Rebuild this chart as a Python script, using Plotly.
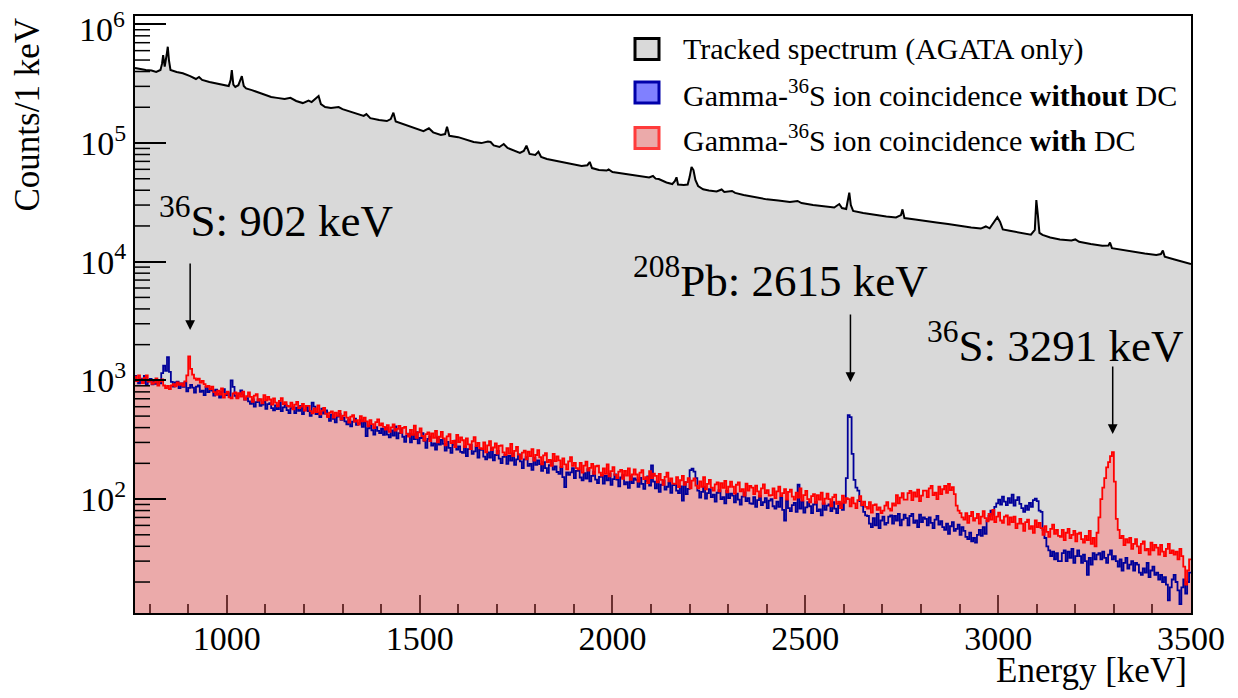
import math
import plotly.graph_objects as go

# ---------------- data ----------------
# Tracked spectrum (AGATA only): energy [keV] and counts per keV
tracked_energy = [
    762, 775, 790, 805, 817, 828, 832, 835, 839, 844, 847, 850, 854, 870, 886, 905,
    920, 928, 936, 955, 975, 1005, 1010, 1013, 1017, 1022, 1030, 1035, 1039, 1044,
    1050, 1065, 1085, 1100, 1115, 1130, 1150, 1165, 1180, 1197, 1212, 1220, 1228,
    1238, 1244, 1255, 1270, 1290, 1300, 1320, 1340, 1355, 1362, 1372, 1395, 1415,
    1425, 1432, 1438, 1455, 1470, 1490, 1510, 1524, 1535, 1555, 1566, 1571, 1577,
    1600, 1622, 1640, 1660, 1677, 1684, 1692, 1707, 1718, 1728, 1745, 1760, 1770,
    1777, 1785, 1800, 1808, 1815, 1830, 1850, 1875, 1900, 1920, 1935, 1941, 1947,
    1965, 1985, 1990, 2000, 2025, 2050, 2075, 2095, 2105, 2112, 2120, 2128, 2140,
    2155, 2162, 2166, 2170, 2185, 2195, 2200, 2205, 2210, 2215, 2222, 2235, 2250,
    2270, 2283, 2290, 2310, 2318, 2340, 2370, 2400, 2430, 2460, 2480, 2490, 2520,
    2550, 2575, 2588, 2595, 2606, 2610, 2614, 2618, 2624, 2650, 2680, 2710, 2735,
    2748, 2752, 2757, 2785, 2810, 2840, 2870, 2900, 2930, 2955, 2968, 2978, 2990,
    2998, 3005, 3012, 3030, 3060, 3085, 3095, 3099, 3103, 3107, 3115, 3135, 3160,
    3190, 3200, 3210, 3240, 3270, 3286, 3290, 3295, 3320, 3350, 3380, 3410, 3422,
    3427, 3432, 3455, 3480, 3500,
]
tracked_counts = [
    429e3, 420e3, 412e3, 408e3, 397e3, 412e3, 464e3, 551e3, 440e3, 551e3, 647e3,
    500e3, 412e3, 397e3, 387e3, 366e3, 346e3, 360e3, 340e3, 327e3, 317e3, 302e3,
    340e3, 412e3, 310e3, 297e3, 307e3, 340e3, 366e3, 302e3, 288e3, 279e3, 264e3,
    254e3, 244e3, 240e3, 235e3, 240e3, 226e3, 217e3, 228e3, 221e3, 232e3, 249e3,
    213e3, 201e3, 197e3, 201e3, 193e3, 184e3, 175e3, 169e3, 175e3, 162e3, 156e3,
    153e3, 159e3, 180e3, 152e3, 145e3, 139e3, 133e3, 126e3, 133e3, 123e3, 117e3,
    119e3, 137e3, 115e3, 112e3, 106e3, 102e3, 99.8e3, 103e3, 102e3, 95.4e3,
    92.5e3, 98e3, 90.8e3, 85.7e3, 82.4e3, 85.7e3, 94.9e3, 80.9e3, 79.3e3, 84.5e3,
    76.2e3, 73.3e3, 71.3e3, 68.5e3, 65.9e3, 64e3, 65e3, 69.2e3, 61.5e3, 59.2e3,
    58.6e3, 60e3, 57e3, 55.3e3, 53.7e3, 52.7e3, 51.2e3, 52.7e3, 50.1e3, 49.7e3,
    48.3e3, 46.5e3, 45.1e3, 47.9e3, 51.4e3, 44.7e3, 44.3e3, 44.7e3, 51.6e3,
    62.8e3, 59.2e3, 48.8e3, 43.4e3, 40.7e3, 39.8e3, 39e3, 40.6e3, 38.6e3, 39.4e3,
    38e3, 36.5e3, 34.8e3, 33.5e3, 32.8e3, 31.8e3, 32.5e3, 31.2e3, 30e3, 29.2e3,
    28.6e3, 30.6e3, 28.3e3, 27.8e3, 33.1e3, 38.1e3, 30e3, 26.8e3, 25.7e3, 24.7e3,
    24e3, 23.6e3, 24.7e3, 27.6e3, 23.3e3, 22.7e3, 22e3, 21.4e3, 20.8e3, 20e3,
    19.4e3, 19e3, 19.8e3, 19.1e3, 21.6e3, 23.7e3, 21.6e3, 18.7e3, 18.2e3, 17.5e3,
    16.9e3, 18.5e3, 33.1e3, 24.7e3, 17.5e3, 16.8e3, 16e3, 15.4e3, 15.1e3, 15.4e3,
    14.7e3, 14.1e3, 13.6e3, 13.7e3, 14.5e3, 13e3, 12.6e3, 12.1e3, 11.7e3, 11.4e3,
    11.6e3, 12.4e3, 11e3, 10.5e3, 10e3, 9.55e3,
]

# Gamma-36S ion coincidence histograms, 5 keV bins starting at 760 keV
bin_start = 760
bin_width = 5

with_dc = [
    1075, 985, 1100, 1020, 950, 1050, 1100, 975, 1010, 935,    # 760
    960, 1040, 905, 980, 1020, 905, 860, 900, 845, 905,        # 810
    930, 890, 960, 915, 945, 900, 980, 1100, 1590, 1250,       # 860
    1120, 1040, 1010, 1035, 960, 990, 930, 880, 900, 845,      # 910
    885, 795, 755, 820, 760, 855, 715, 770, 805, 720,          # 960
    705, 775, 790, 705, 780, 730, 805, 690, 735, 790,          # 1010
    725, 660, 745, 765, 675, 695, 640, 750, 680, 725,          # 1060
    690, 625, 705, 650, 603, 672, 710, 630, 655, 610,          # 1110
    600, 650, 570, 625, 660, 585, 602, 635, 555, 610,          # 1160
    610, 550, 527, 580, 540, 615, 518, 557, 585, 525,          # 1210
    490, 535, 548, 485, 535, 503, 552, 470, 505, 540,          # 1260
    485, 440, 495, 510, 450, 463, 425, 500, 452, 485,          # 1310
    452, 410, 463, 428, 397, 445, 470, 418, 435, 405,          # 1360
    385, 420, 368, 402, 425, 378, 390, 413, 362, 398,          # 1410
    405, 354, 336, 383, 347, 416, 328, 365, 394, 340,          # 1460
    311, 352, 365, 308, 358, 328, 375, 301, 335, 368,          # 1510
    324, 284, 337, 353, 296, 309, 274, 347, 302, 331,          # 1560
    313, 274, 325, 289, 263, 307, 333, 280, 298, 268,          # 1610
    264, 300, 248, 283, 308, 259, 272, 294, 242, 281,          # 1660
    283, 247, 235, 268, 242, 291, 230, 255, 275, 237,          # 1710
    218, 246, 256, 216, 251, 230, 263, 211, 235, 258,          # 1760
    225, 196, 233, 244, 205, 214, 190, 240, 209, 229,          # 1810
    212, 186, 220, 196, 178, 208, 226, 190, 202, 182,          # 1860
    178, 202, 167, 191, 207, 174, 183, 198, 163, 189,          # 1910
    191, 167, 158, 181, 163, 196, 155, 172, 186, 160,          # 1960
    150, 170, 176, 148, 173, 158, 181, 145, 161, 178,          # 2010
    161, 140, 167, 175, 147, 153, 136, 172, 150, 164,          # 2060
    157, 138, 163, 145, 132, 154, 167, 141, 149, 135,          # 2110
    134, 153, 126, 144, 157, 132, 139, 150, 123, 143,          # 2160
    149, 130, 123, 141, 127, 153, 121, 134, 145, 125,          # 2210
    118, 133, 138, 116, 136, 124, 142, 114, 127, 140,          # 2260
    127, 111, 132, 138, 116, 121, 107, 135, 118, 129,          # 2310
    125, 110, 130, 116, 105, 123, 133, 112, 119, 107,          # 2360
    108, 123, 102, 116, 127, 106, 112, 121, 99, 115,           # 2410
    120, 105, 99, 113, 103, 123, 97, 108, 117, 100,            # 2460
    94, 106, 110, 93, 108, 99, 113, 91, 101, 111,              # 2510
    100, 87, 104, 109, 91, 95, 84, 107, 93, 102,               # 2560
    100, 87, 103, 92, 84, 98, 106, 89, 95, 86,                 # 2610
    83, 94, 77, 89, 90, 81, 85, 76, 80, 88,                    # 2660
    94, 83, 80, 92, 88, 108, 92, 103, 112, 99,                 # 2710
    99, 112, 117, 98, 114, 105, 120, 96, 107, 118,             # 2760
    118, 104, 123, 129, 108, 113, 100, 127, 110, 121,          # 2810
    129, 113, 134, 119, 126, 110, 88, 80, 76, 70,              # 2860
    67, 76, 63, 72, 78, 66, 69, 75, 62, 71,                    # 2910
    79, 69, 65, 75, 67, 81, 64, 71, 77, 66,                    # 2960
    63, 71, 73, 61, 70, 64, 71, 57, 62, 68,                    # 3010
    62, 54, 64, 67, 56, 59, 52, 66, 58, 63,                    # 3060
    57, 50, 59, 53, 48, 56, 61, 51, 55, 49,                    # 3110
    48, 55, 45, 52, 56, 47, 50, 54, 44, 51,                    # 3160
    52, 46, 43, 49, 45, 54, 42, 47, 40, 52,                    # 3210
    70, 100, 125, 150, 185, 205, 230, 249, 140, 68,            # 3260
    55, 47, 49, 41, 46, 43, 47, 38, 42, 46,                    # 3310
    40, 35, 42, 44, 37, 38, 34, 43, 37, 41,                    # 3360
    39, 34, 41, 36, 33, 38, 42, 35, 37, 34,                    # 3410
    36, 31, 38, 33, 27, 19, 25, 31,                            # 3460
]
without_dc = [
    1090, 985, 945, 1035, 960, 1090, 915, 980, 1030, 925,      # 760
    990, 935, 975, 945, 1150, 1330, 1200, 1570, 1180, 970,     # 810
    885, 960, 975, 860, 945, 880, 960, 810, 865, 915,          # 860
    870, 790, 885, 905, 800, 820, 750, 880, 795, 845,          # 910
    820, 745, 835, 770, 715, 800, 845, 750, 780, 725,          # 960
    1000, 880, 740, 715, 770, 824, 760, 690, 710, 665,         # 1010
    635, 690, 600, 655, 690, 610, 625, 660, 575, 630,          # 1060
    643, 583, 560, 615, 573, 653, 551, 592, 625, 562,          # 1110
    531, 582, 596, 531, 588, 554, 610, 520, 559, 599,          # 1160
    551, 502, 650, 600, 520, 535, 490, 578, 524, 559,          # 1210
    499, 456, 514, 475, 442, 494, 523, 466, 485, 451,          # 1260
    427, 466, 409, 449, 475, 422, 436, 462, 405, 444,          # 1310
    340, 395, 420, 380, 350, 404, 375, 360, 392, 348,          # 1360
    400, 349, 331, 378, 342, 410, 324, 360, 389, 335,          # 1410
    304, 343, 356, 300, 350, 320, 366, 294, 327, 360,          # 1460
    309, 270, 321, 336, 282, 294, 261, 330, 288, 315,          # 1510
    292, 256, 303, 270, 245, 286, 311, 261, 278, 250,          # 1560
    245, 278, 230, 263, 286, 240, 252, 273, 224, 260,          # 1610
    261, 228, 216, 247, 223, 268, 212, 235, 254, 219,          # 1660
    201, 227, 235, 198, 231, 211, 242, 194, 216, 238,          # 1710
    208, 182, 216, 226, 190, 198, 176, 222, 194, 212,          # 1760
    197, 173, 205, 182, 166, 193, 210, 177, 188, 169,          # 1810
    163, 185, 153, 126, 168, 160, 168, 182, 150, 173,          # 1860
    174, 152, 144, 165, 149, 179, 141, 157, 170, 146,          # 1910
    136, 154, 160, 135, 157, 144, 164, 132, 147, 161,          # 1960
    146, 128, 152, 159, 133, 139, 124, 156, 136, 149,          # 2010
    145, 127, 151, 134, 122, 142, 155, 130, 192, 140,          # 2060
    123, 140, 115, 132, 143, 120, 127, 137, 113, 131,          # 2110
    134, 118, 112, 128, 97, 139, 110, 122, 175, 180,           # 2160
    170, 150, 118, 103, 115, 126, 101, 112, 121, 104,          # 2210
    109, 95, 113, 119, 100, 104, 92, 117, 102, 111,            # 2260
    107, 94, 111, 99, 90, 105, 114, 96, 102, 92,               # 2310
    91, 104, 86, 98, 106, 89, 94, 102, 84, 97,                 # 2360
    100, 87, 83, 95, 86, 103, 81, 66, 97, 84,                  # 2410
    79, 89, 93, 78, 132, 83, 95, 77, 85, 94,                   # 2460
    87, 76, 90, 94, 79, 82, 73, 92, 81, 88,                    # 2510
    90, 79, 94, 83, 76, 88, 92, 81, 95, 150,                   # 2560
    510, 490, 240, 145, 125, 118, 96, 88, 78, 73,              # 2610
    72, 62, 58, 69, 60, 75, 57, 66, 71, 61,                    # 2660
    63, 71, 73, 62, 72, 66, 75, 60, 67, 74,                    # 2710
    69, 60, 72, 75, 63, 66, 58, 74, 64, 70,                    # 2760
    68, 60, 70, 63, 57, 67, 72, 61, 65, 58,                    # 2810
    55, 62, 51, 59, 64, 54, 56, 61, 50, 58,                    # 2860
    54, 48, 46, 52, 44, 47, 43, 50, 55, 49,                    # 2910
    58, 51, 66, 72, 80, 74, 86, 92, 99, 90,                    # 2960
    105, 95, 89, 102, 93, 109, 88, 98, 104, 91,                # 3010
    84, 78, 88, 81, 93, 86, 98, 101, 96, 80,                   # 3060
    78, 55, 47, 40, 37, 33, 36, 31, 35, 30,                    # 3110
    30, 35, 37, 30, 36, 32, 38, 29, 33, 37,                    # 3160
    33, 29, 34, 30, 23, 32, 28, 35, 31, 34,                    # 3210
    35, 31, 36, 32, 29, 34, 37, 31, 33, 30,                    # 3260
    27, 31, 25, 29, 32, 26, 28, 30, 25, 29,                    # 3310
    28, 24, 23, 26, 24, 29, 22, 25, 27, 23,                    # 3360
    24, 21, 23, 20, 22, 19, 14, 18, 21, 23,                    # 3410
    20, 17, 13, 18, 21, 16, 20, 24,                            # 3460
]

# axis tick labels
y_tick_values = [1e2, 1e3, 1e4, 1e5, 1e6]
y_tick_text = ["10<sup>2</sup>", "10<sup>3</sup>", "10<sup>4</sup>", "10<sup>5</sup>", "10<sup>6</sup>"]

peak_labels = ["<sup>36</sup>S: 902 keV", "<sup>208</sup>Pb: 2615 keV", "<sup>36</sup>S: 3291 keV"]
peak_arrow_energy = [905, 2617, 3297]

legend_labels = [
    "Tracked spectrum (AGATA only)",
    "Gamma-<sup>36</sup>S ion coincidence <b>without</b> DC",
    "Gamma-<sup>36</sup>S ion coincidence <b>with</b> DC",
]

# ---------------- styling ----------------
FONT = "Liberation Serif, Times New Roman, Times, serif"
GREY_FILL = "#d9d9d9"
PINK_FILL = "#ebaaaa"
RED = "#ff0000"
BLUE = "#000099"

X_RANGE = [762, 3500]
Y_RANGE_LOG = [1.04, 6.07]

W, H = 1238, 698
ML, MR, MT, MB = 135, 47, 16, 85
PW, PH = W - ML - MR, H - MT - MB


def fx(px):
    return (px - ML) / PW


def fy(py):
    return (H - MB - py) / PH


def step_xy(values):
    edges = [bin_start + i * bin_width for i in range(len(values) + 1)]
    return edges, list(values) + [values[-1]]


fig = go.Figure()

fig.add_trace(go.Scatter(
    x=tracked_energy, y=tracked_counts, mode="lines",
    line=dict(color="black", width=2), fill="tozeroy", fillcolor=GREY_FILL,
    showlegend=False, hoverinfo="skip"))

rx, ry = step_xy(with_dc)
bx, by = step_xy(without_dc)

fig.add_trace(go.Scatter(
    x=rx, y=ry, mode="lines", line=dict(color=RED, width=0, shape="hv"),
    fill="tozeroy", fillcolor=PINK_FILL, showlegend=False, hoverinfo="skip"))
fig.add_trace(go.Scatter(
    x=bx, y=by, mode="lines", line=dict(color=BLUE, width=1.8, shape="hv"),
    showlegend=False, hoverinfo="skip"))
fig.add_trace(go.Scatter(
    x=rx, y=ry, mode="lines", line=dict(color=RED, width=1.8, shape="hv"),
    showlegend=False, hoverinfo="skip"))

fig.update_xaxes(
    range=X_RANGE, showline=True, linecolor="black", linewidth=2, mirror=True,
    ticks="inside", ticklen=18, tickwidth=1.5, tickcolor="#6b3030",
    dtick=500, tick0=0, showgrid=False, zeroline=False, automargin=False,
    ticklabelstandoff=-6,
    minor=dict(ticks="inside", ticklen=9, tickwidth=1.5, tickcolor="#6b3030", dtick=100),
    tickfont=dict(family=FONT, size=34, color="black"),
)
# the top label (10^6) is drawn separately, shifted down like in the reference
fig.update_yaxes(
    type="log", range=Y_RANGE_LOG, showline=True, linecolor="black", linewidth=2,
    mirror=True, ticks="inside", ticklen=31, tickwidth=1.5, tickcolor="black",
    tickmode="array", tickvals=y_tick_values, ticktext=y_tick_text[:-1] + [""],
    showgrid=False, zeroline=False,
    ticklabeloverflow="allow", automargin=False,
    tickfont=dict(family=FONT, size=34, color="black"),
)

shapes = []
# minor log ticks on the y axis (2..9 in each decade)
for dec in range(1, 7):
    for m in range(2, 10):
        lv = dec + math.log10(m)
        if Y_RANGE_LOG[0] < lv < Y_RANGE_LOG[1]:
            yf = (lv - Y_RANGE_LOG[0]) / (Y_RANGE_LOG[1] - Y_RANGE_LOG[0])
            shapes.append(dict(type="line", xref="paper", yref="paper",
                               x0=0, x1=15 / PW, y0=yf, y1=yf,
                               line=dict(color="black", width=1.5)))

annotations = []
annotations.append(dict(text=y_tick_text[-1], xref="paper", yref="paper",
                        x=fx(127), y=fy(27), xanchor="right", yanchor="middle",
                        showarrow=False, font=dict(family=FONT, size=34, color="black")))
# axis titles
annotations.append(dict(text="Counts/1 keV", xref="paper", yref="paper",
                        x=fx(27), y=fy(17), xanchor="center", yanchor="top",
                        textangle=-90, showarrow=False,
                        font=dict(family=FONT, size=35, color="black")))
annotations.append(dict(text="Energy [keV]", xref="paper", yref="paper",
                        x=fx(1189), y=fy(670), xanchor="right", yanchor="middle",
                        showarrow=False, font=dict(family=FONT, size=35, color="black")))

# peak labels and arrows
label_pos = [(157, 217), (631, 277), (925, 342)]
arrow_pix = [(262, 330), (313, 382), (365, 434)]
for txt, (lx, ly) in zip(peak_labels, label_pos):
    annotations.append(dict(text=txt, xref="paper", yref="paper", x=fx(lx), y=fy(ly),
                            xanchor="left", yanchor="middle", showarrow=False,
                            font=dict(family=FONT, size=45, color="black")))
for e, (y0, y1) in zip(peak_arrow_energy, arrow_pix):
    annotations.append(dict(text="", x=e, xref="x", yref="paper", y=fy(y1),
                            ax=0, ay=-(y1 - y0), showarrow=True, arrowhead=2,
                            arrowsize=1.3, arrowwidth=1.5, arrowcolor="black"))

# legend (drawn by hand, ROOT style)
leg_rows = [49, 92.5, 138]
leg_fill = [GREY_FILL, "#8080ff", PINK_FILL]
leg_line = ["black", "#0000aa", "#ff3b3b"]
for txt, rowy, fc, lc in zip(legend_labels, leg_rows, leg_fill, leg_line):
    shapes.append(dict(type="rect", xref="paper", yref="paper",
                       x0=fx(635), x1=fx(659), y0=fy(rowy + 10.5), y1=fy(rowy - 10.5),
                       fillcolor=fc, line=dict(color=lc, width=3)))
    annotations.append(dict(text=txt, xref="paper", yref="paper", x=fx(681), y=fy(rowy),
                            xanchor="left", yanchor="middle", showarrow=False,
                            font=dict(family=FONT, size=30, color="black")))

fig.update_layout(
    width=W, height=H, margin=dict(l=ML, r=MR, t=MT, b=MB, autoexpand=False),
    paper_bgcolor="white", plot_bgcolor="white",
    showlegend=False, annotations=annotations, shapes=shapes,
    font=dict(family=FONT),
)

fig.write_html("out.html")
